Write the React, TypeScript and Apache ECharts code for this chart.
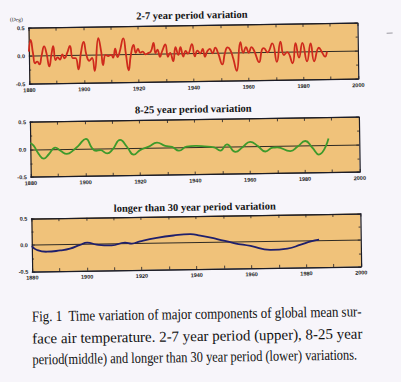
import React, { useEffect, useRef } from "react";
import * as echarts from "echarts";

// ---- data ----
const TITLES = [
  "2-7 year period variation",
  "8-25 year period variation",
  "longer than 30 year period variation",
];
const CAPTION = [
  "Fig. 1  Time variation of major components of global mean sur-",
  "face air temperature. 2-7 year period (upper), 8-25 year",
  "period(middle) and longer than 30 year period (lower) variations.",
];
const UNIT_LABEL = "(Deg)";
const X_MIN = 1880;
const X_MAX = 2000;
const X_STEP = 20;
const Y_MIN = -0.5;
const Y_MAX = 0.5;
const Y_STEP = 0.5;

// 2-7 year period variation
const years1 = [
  1880.0, 1880.7, 1881.5, 1882.2, 1883.0, 1883.8, 1884.6, 1885.6, 1886.4, 1887.4,
  1888.2, 1888.9, 1889.7, 1890.5, 1891.3, 1892.2, 1893.0, 1894.0, 1895.0, 1896.0,
  1897.0, 1898.0, 1899.0, 1900.0, 1901.0, 1902.0, 1903.0, 1903.9, 1905.4, 1906.4,
  1907.0, 1908.0, 1909.0, 1910.0, 1910.7, 1911.5, 1912.3, 1913.0, 1914.5, 1915.4,
  1916.3, 1917.2, 1918.2, 1919.0, 1919.8, 1920.6, 1921.5, 1922.5, 1923.5, 1924.5,
  1925.5, 1926.2, 1926.9, 1927.8, 1928.6, 1929.8, 1930.7, 1931.5, 1932.6, 1933.5,
  1934.5, 1935.3, 1936.3, 1937.2, 1938.0, 1939.5, 1940.5, 1941.5, 1942.5, 1943.4,
  1944.2, 1945.0, 1946.0, 1947.0, 1948.0, 1949.0, 1950.5, 1951.5, 1952.5, 1953.5,
  1954.5, 1955.7, 1957.2, 1958.2, 1959.2, 1960.2, 1961.2, 1962.2, 1963.9, 1965.0,
  1965.7, 1967.0, 1968.8, 1970.4, 1971.8, 1973.0, 1974.2, 1976.1, 1977.3, 1978.5,
  1979.8, 1981.4, 1982.8, 1984.0, 1985.8, 1987.0, 1988.0, 1988.7,
];
const values1 = [
  0.08, 0.29, 0.05, -0.13, -0.1, -0.15, 0.0, 0.17, 0.05, -0.19,
  0.02, 0.17, -0.08, -0.03, -0.07, 0.02, -0.05, 0.05, 0.17, -0.05,
  -0.05, -0.25, 0.05, 0.24, 0.0, -0.1, -0.05, -0.28, 0.3, 0.05,
  -0.18, 0.0, -0.02, 0.0, -0.05, 0.11, -0.04, 0.03, 0.29, 0.0,
  -0.28, 0.0, 0.17, 0.03, 0.1, 0.03, 0.05, 0.0, 0.02, 0.05,
  0.2, 0.02, 0.08, -0.05, 0.05, 0.17, -0.05, 0.02, -0.13, 0.12,
  -0.02, 0.12, -0.05, 0.05, 0.0, 0.17, -0.05, 0.05, 0.0, 0.08,
  -0.06, 0.03, 0.08, 0.0, 0.1, 0.0, -0.2, 0.0, 0.1, 0.05,
  -0.1, -0.32, 0.19, 0.0, 0.1, 0.0, 0.1, 0.03, -0.17, 0.05,
  0.08, 0.0, 0.16, -0.17, 0.19, -0.05, 0.0, -0.2, 0.16, -0.1,
  0.16, -0.17, 0.15, -0.17, 0.07, -0.02, -0.09, 0.0,
];

// 8-25 year period variation
const years2 = [
  1880.0, 1881.2, 1883.0, 1884.9, 1886.7, 1889.1, 1891.0, 1893.3, 1895.8, 1897.6,
  1900.3, 1902.5, 1904.0, 1905.5, 1908.0, 1910.0, 1912.8, 1915.3, 1917.7, 1920.0,
  1923.2, 1926.2, 1929.2, 1931.7, 1934.2, 1937.0, 1940.2, 1943.5, 1947.0, 1949.3,
  1951.7, 1954.8, 1957.5, 1960.2, 1963.0, 1965.7, 1968.5, 1970.0, 1974.8, 1977.5,
  1980.3, 1982.8, 1985.2, 1988.8,
];
const values2 = [
  0.12, 0.07, -0.08, -0.17, -0.09, 0.03, -0.03, -0.09, -0.02, 0.06,
  0.18, 0.01, -0.04, -0.03, -0.09, -0.02, 0.15, 0.02, -0.12, -0.04,
  0.02, 0.09, 0.03, 0.01, -0.06, 0.01, 0.02, 0.01, -0.01, -0.07,
  0.04, -0.1, -0.01, 0.08, 0.0, -0.1, -0.03, -0.03, -0.1, -0.02,
  0.08, -0.04, -0.17, 0.12,
];

// longer than 30 year period variation
const years3 = [
  1880.0, 1881.7, 1885.4, 1890.3, 1893.9, 1897.6, 1900.2, 1903.7, 1909.1, 1914.0,
  1916.5, 1919.5, 1925.6, 1931.7, 1937.8, 1941.5, 1947.6, 1953.7, 1959.8, 1967.1,
  1973.2, 1978.1, 1981.8, 1984.8,
];
const values3 = [
  -0.02, -0.09, -0.13, -0.11, -0.08, -0.01, 0.03, -0.01, -0.03, 0.02,
  0.0, 0.04, 0.1, 0.14, 0.16, 0.13, 0.06, -0.02, -0.08, -0.16,
  -0.14, -0.07, -0.01, 0.02,
];

const SERIES = [
  { years: years1, values: values1, color: "#cf2a1c" },
  { years: years2, values: values2, color: "#3d9a2b" },
  { years: years3, values: values3, color: "#1f1f6c" },
];

// ---- layout / style ----
const GRIDS = [
  { top: 25.5, height: 56, titleY: 15 },
  { top: 119.5, height: 55, titleY: 109 },
  { top: 216, height: 53, titleY: 207 },
];
const GRID_LEFT = 31;
const GRID_WIDTH = 329;
const PLOT_BG = "#f0c27a";
const AXIS = "#1c1c26";
const PAGE_BG = "#f7f5fa";

function measure(text: string, font: string): number {
  const c = document.createElement("canvas").getContext("2d");
  if (!c) return text.length * 6;
  c.font = font;
  return c.measureText(text).width;
}

export default function App() {
  const ref = useRef<HTMLDivElement>(null);
  useEffect(() => {
    if (!ref.current) return;
    const chart = echarts.init(ref.current, null, { renderer: "svg" });

    const xAxes: any[] = [];
    const yAxes: any[] = [];
    const series: any[] = [];
    const tickLine = { lineStyle: { color: AXIS, width: 0.8 } };
    GRIDS.forEach((g, i) => {
      const xb = { type: "value", gridIndex: i, min: X_MIN, max: X_MAX, interval: X_STEP };
      const yb = { type: "value", gridIndex: i, min: Y_MIN, max: Y_MAX, interval: Y_STEP };
      const line = { show: true, onZero: false, lineStyle: { color: AXIS, width: 1.2 } };
      const tick = { show: true, inside: true, length: 3, ...tickLine };
      xAxes.push({
        ...xb,
        position: "bottom",
        axisLine: line,
        axisTick: tick,
        minorTick: { show: true, splitNumber: 2, length: 3, ...tickLine },
        splitLine: { show: false },
        axisLabel: {
          fontSize: 5.5,
          fontWeight: "bold",
          fontFamily: "Liberation Sans",
          color: "#222",
          margin: 3,
          formatter: (v: number) => String(v),
        },
      });
      xAxes.push({
        ...xb,
        position: "top",
        axisLine: line,
        axisTick: tick,
        minorTick: { show: true, splitNumber: 2, length: 3, ...tickLine },
        splitLine: { show: false },
        axisLabel: { show: false },
      });
      yAxes.push({
        ...yb,
        position: "left",
        axisLine: line,
        axisTick: tick,
        minorTick: { show: true, splitNumber: 2, length: 2, ...tickLine },
        splitLine: { show: true, lineStyle: { color: "#1a1a1a", width: 0.9 } },
        axisLabel: {
          fontSize: 5.5,
          fontWeight: "bold",
          fontFamily: "Liberation Sans",
          color: "#222",
          margin: 4,
          formatter: (v: number) => v.toFixed(1),
        },
      });
      yAxes.push({
        ...yb,
        position: "right",
        axisLine: line,
        axisTick: tick,
        minorTick: { show: true, splitNumber: 2, length: 2, ...tickLine },
        splitLine: { show: false },
        axisLabel: { show: false },
      });
      const s = SERIES[i];
      series.push({
        type: "line",
        xAxisIndex: i * 2,
        yAxisIndex: i * 2,
        data: s.years.map((y, k) => [y, s.values[k]]),
        smooth: 0.5,
        showSymbol: false,
        lineStyle: { color: s.color, width: 1.8 },
        z: 5,
      });
    });

    const graphics: any[] = [];
    GRIDS.forEach((g, i) => {
      graphics.push({
        type: "text",
        x: GRID_LEFT + GRID_WIDTH / 2 - 1,
        y: g.titleY,
        style: {
          text: TITLES[i],
          font: 'bold 10.5px "Liberation Serif"',
          fill: "#141414",
          textAlign: "center",
          textVerticalAlign: "middle",
        },
      });
    });
    graphics.push({
      type: "text",
      x: 19,
      y: 16.5,
      style: {
        text: UNIT_LABEL,
        font: '5.5px "Liberation Serif"',
        fill: "#222",
        textAlign: "center",
        textVerticalAlign: "middle",
      },
    });
    // caption, condensed horizontally like the scanned print
    const capFont = '15px "Liberation Serif"';
    const capY = [314, 336, 357];
    const capW = [330, 330, 325];
    CAPTION.forEach((t, i) => {
      const w = measure(t, capFont);
      graphics.push({
        type: "text",
        x: 30,
        y: capY[i],
        scaleX: capW[i] / w,
        style: {
          text: t,
          font: capFont,
          fill: "#101010",
          textAlign: "left",
          textVerticalAlign: "middle",
        },
      });
    });
    // small scan mark at the right
    graphics.push({
      type: "line",
      shape: { x1: 389, y1: 36, x2: 395, y2: 36 },
      style: { stroke: "#9a98a0", lineWidth: 1 },
    });

    chart.setOption({
      animation: false,
      backgroundColor: "transparent",
      grid: GRIDS.map((g) => ({
        left: GRID_LEFT,
        top: g.top,
        width: GRID_WIDTH,
        height: g.height,
        show: true,
        backgroundColor: PLOT_BG,
        borderWidth: 0,
      })),
      xAxis: xAxes,
      yAxis: yAxes,
      series,
      graphic: graphics,
    });
    return () => chart.dispose();
  }, []);

  return (
    <div
      style={{
        position: "fixed",
        left: 0,
        top: 0,
        width: 401,
        height: 382,
        background: PAGE_BG,
        overflow: "hidden",
      }}
    >
      <div
        ref={ref}
        style={{
          width: 401,
          height: 382,
          transform: "rotate(-0.87deg)",
          transformOrigin: "200px 191px",
        }}
      />
    </div>
  );
}
